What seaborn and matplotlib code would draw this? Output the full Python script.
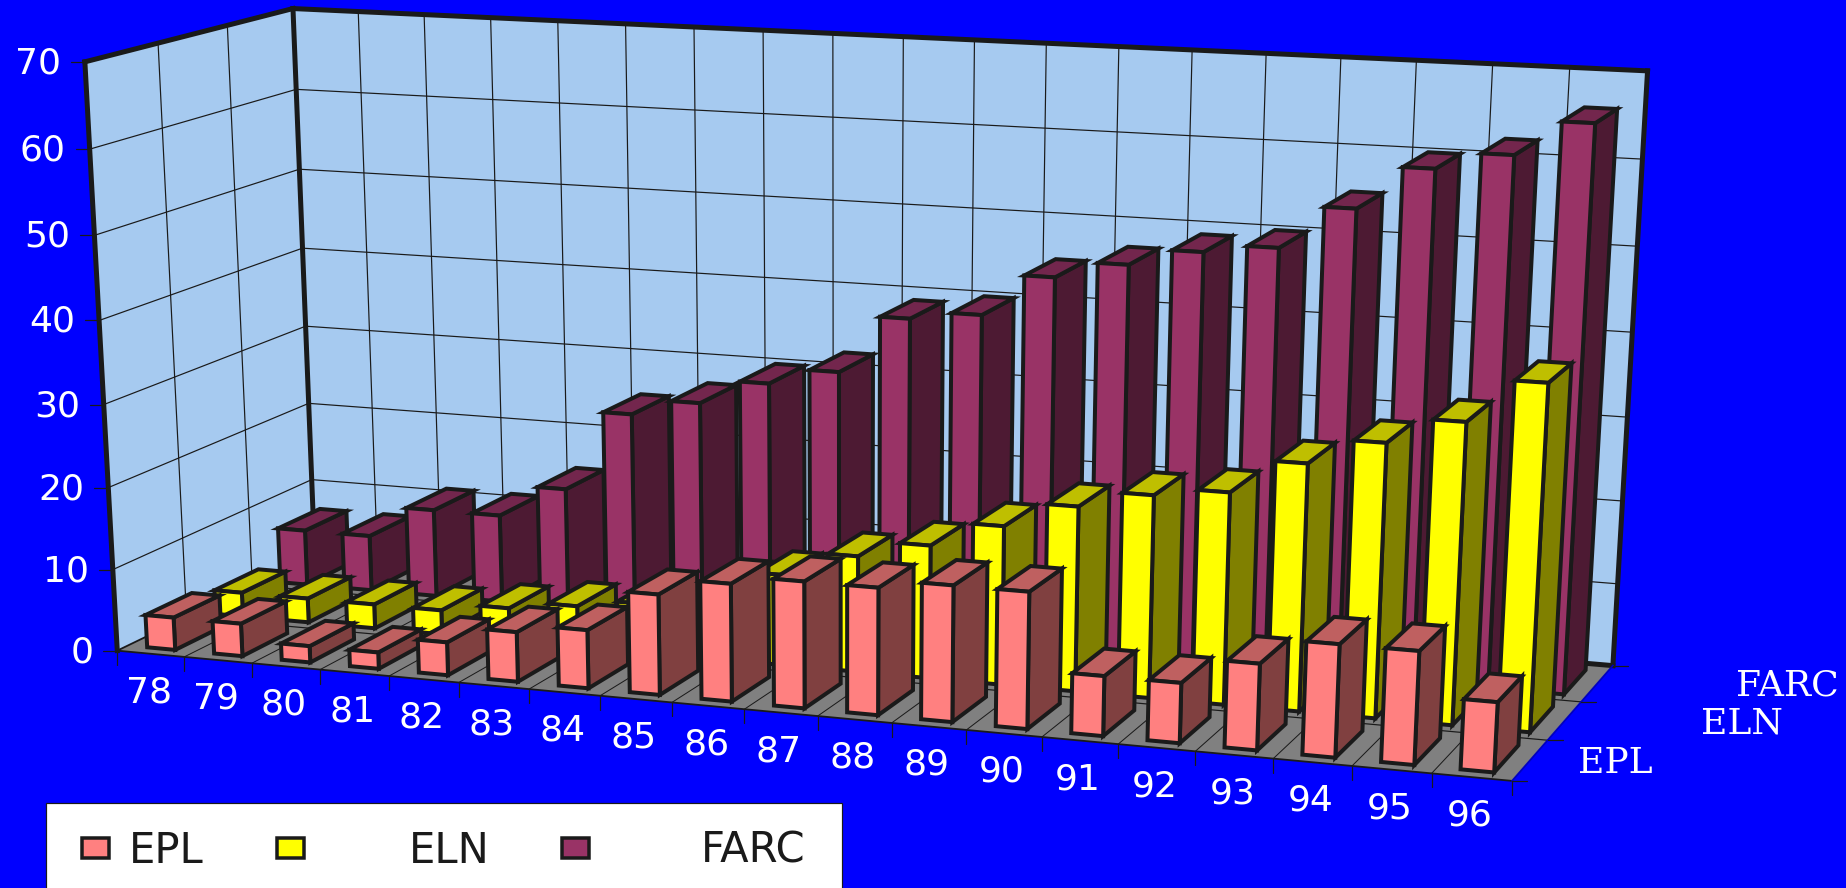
import numpy as np
import pandas as pd
import seaborn as sns
import matplotlib
matplotlib.use("Agg")
import matplotlib.pyplot as plt
from matplotlib.patches import Polygon, Rectangle

sns.set_theme(style="white")

# Share of the series per year
YEARS = ["78", "79", "80", "81", "82", "83", "84", "85", "86", "87",
         "88", "89", "90", "91", "92", "93", "94", "95", "96"]
EPL = [4, 4, 2, 2, 4, 6, 7, 12, 14, 15, 15, 16, 16, 7, 7, 10, 13, 13, 8]
ELN = [3, 3, 3, 3, 4, 5, 6, 8, 11, 14, 16, 19, 22, 24, 25, 29, 32, 35, 40]
FARC = [7, 7, 11, 11, 15, 25, 27, 30, 32, 39, 40, 45, 47, 49, 50, 55, 60, 62, 66]
SERIES = ["EPL", "ELN", "FARC"]
VALUE_TICKS = [0, 10, 20, 30, 40, 50, 60, 70]

data = pd.DataFrame({"year": YEARS, "EPL": EPL, "ELN": ELN, "FARC": FARC})
FRONT = sns.color_palette(["#FF8080", "#FFFF00", "#993366"])
SHADE_TOP, SHADE_SIDE = 0.75, 0.5

# Camera: pixel anchors of the plot box (year, depth, value, px, py)
box_anchors = np.array([
    (0, 0, 0, 118, 651), (0, 0, 70, 84, 61), (0, 3, 70, 292, 9), (0, 3, 0, 315, 550),
    (19, 0, 0, 1513, 780), (19, 3, 0, 1614, 667), (19, 3, 70, 1641, 68),
    (5, 0, 0, 460, 682.6), (10, 0, 0, 818, 716), (15, 0, 0, 1195, 751),
    (16, 3, 70, 1419, 61), (17, 3, 70, 1495, 64), (18, 3, 70, 1572, 67),
    (0, 1, 70, 159, 43), (0, 2, 70, 228, 26), (0, 0, 10, 110.7, 569.7),
    (0, 0, 20, 107.5, 488), (0, 0, 60, 91, 149), (0, 3, 60, 295, 91),
    (0, 3, 10, 312, 482), (19, 1, 0, 1546, 741), (19, 2, 0, 1580.5, 703),
], float)
rows = []
for x, d, z, u, v in box_anchors:
    X = [x, d, z, 1]
    rows.append(X + [0, 0, 0, 0] + [-u * c for c in X])
    rows.append([0, 0, 0, 0] + X + [-v * c for c in X])
CAMERA = np.linalg.svd(np.array(rows))[2][-1].reshape(3, 4)


def proj(x, d, z):
    h = CAMERA @ np.array([x, d, z, 1.0])
    return h[0] / h[2], h[1] / h[2]


def shade(rgb, k):
    return tuple(c * k for c in rgb)


fig = plt.figure(figsize=(18.46, 8.88), dpi=100, facecolor="#0000FF")
ax = fig.add_axes([0, 0, 1, 1])
ax.set_xlim(0, 1846)
ax.set_ylim(888, 0)
ax.axis("off")

px = 72 / 100  # one pixel in points
WALL = "#A6CAF0"
nx, nd, zmax = len(YEARS), len(SERIES), VALUE_TICKS[-1]


def seg(a, b, lw, color="k", z=1):
    ax.plot(*zip(proj(*a), proj(*b)), color=color, lw=lw * px, zorder=z,
            solid_capstyle="projecting")


# Walls and floor
ax.add_patch(Polygon([proj(0, 0, 0), proj(0, nd, 0), proj(0, nd, zmax), proj(0, 0, zmax)],
                     fc=WALL, ec="none", zorder=0))
ax.add_patch(Polygon([proj(0, nd, 0), proj(nx, nd, 0), proj(nx, nd, zmax), proj(0, nd, zmax)],
                     fc=WALL, ec="none", zorder=0))
ax.add_patch(Polygon([proj(0, 0, 0), proj(nx, 0, 0), proj(nx, nd, 0), proj(0, nd, 0)],
                     fc="#808080", ec="none", zorder=0))

# Gridlines
for v in VALUE_TICKS[1:-1]:
    seg((0, 0, v), (0, nd, v), 1.2)
    seg((0, nd, v), (nx, nd, v), 1.2)
for d in range(1, nd):
    seg((0, d, 0), (0, d, zmax), 1.2)
    seg((0, d, 0), (nx, d, 0), 1.2)
for i in range(1, nx):
    seg((i, nd, 0), (i, nd, zmax), 1.2)
    seg((i, 0, 0), (i, nd, 0), 1.0)

# Heavy outline of the walls, light outline of the floor
for a, b in [((0, 0, 0), (0, 0, zmax)), ((0, 0, zmax), (0, nd, zmax)),
             ((0, nd, zmax), (nx, nd, zmax)), ((nx, nd, zmax), (nx, nd, 0)),
             ((0, nd, zmax), (0, nd, 0)), ((0, nd, 0), (nx, nd, 0))]:
    seg(a, b, 5, z=2)
seg((0, nd, 0), (0, 0, 0), 1.8, z=2)
seg((0, 0, 0), (nx, 0, 0), 1.8, z=2)
seg((nx, 0, 0), (nx, nd, 0), 1.8, color="#0000C0", z=2)

# Bars, drawn back to front and left to right
XL, XR, DF, DB = 0.29, 0.71, 0.15, 0.82
zo = 5
for row in reversed(range(nd)):
    name = SERIES[row]
    col = FRONT[row]
    for i, val in enumerate(data[name]):
        x0, x1 = i + XL, i + XR
        d0, d1 = row + DF, row + DB
        faces = [
            ([proj(x1, d0, 0), proj(x1, d1, 0), proj(x1, d1, val), proj(x1, d0, val)], shade(col, SHADE_SIDE)),
            ([proj(x0, d0, val), proj(x1, d0, val), proj(x1, d1, val), proj(x0, d1, val)], shade(col, SHADE_TOP)),
            ([proj(x0, d0, 0), proj(x1, d0, 0), proj(x1, d0, val), proj(x0, d0, val)], col),
        ]
        for pts, fc in faces:
            ax.add_patch(Polygon(pts, fc=fc, ec="k", lw=4 * px, joinstyle="miter", zorder=zo))
        zo += 1

# Value axis
for v in VALUE_TICKS:
    u, w = proj(0, 0, v)
    ax.plot([u - 14, u], [w, w], color="k", lw=1.2 * px, zorder=3)
    ax.text(u - 24, w - 2, str(v), color="white", fontsize=26, ha="right", va="center_baseline",
            family="DejaVu Sans")

# Year axis
for i in range(nx + 1):
    u, w = proj(i, 0, 0)
    ax.plot([u, u], [w, w + 14], color="k", lw=1.2 * px, zorder=3)
for i, yr in enumerate(YEARS):
    u, w = proj(i + 0.5, 0, 0)
    ax.text(u - 2, w + 35, yr, color="white", fontsize=26, ha="center", va="center_baseline",
            family="DejaVu Sans")

# Depth axis
for d in range(nd + 1):
    u, w = proj(nx, d, 0)
    ax.plot([u, u + 15], [w, w], color="k", lw=1.2 * px, zorder=3)
for name, d, off in zip(SERIES, (0.5, 1.5, 2.5), (85, 177, 190)):
    u, w = proj(nx, d, 0)
    ax.text(u + off, w - 1, name, color="white", fontsize=26, ha="center", va="center_baseline",
            family="DejaVu Serif")

# Legend box, running off the lower edge of the figure
ax.add_patch(Rectangle((46, 803), 796, 100, fc="white", ec="k", lw=1.2 * px, zorder=50))
for name, col, mx, tx in zip(SERIES, FRONT, (82, 277, 562), (166, 449, 753)):
    ax.add_patch(Rectangle((mx, 838), 27, 20, fc=col, ec="k", lw=3.5 * px, zorder=51))
    ax.text(tx, 846, name, color="k", fontsize=30, ha="center", va="center_baseline",
            family="DejaVu Sans", zorder=51)

fig.savefig("out.png", dpi=100, facecolor=fig.get_facecolor())
